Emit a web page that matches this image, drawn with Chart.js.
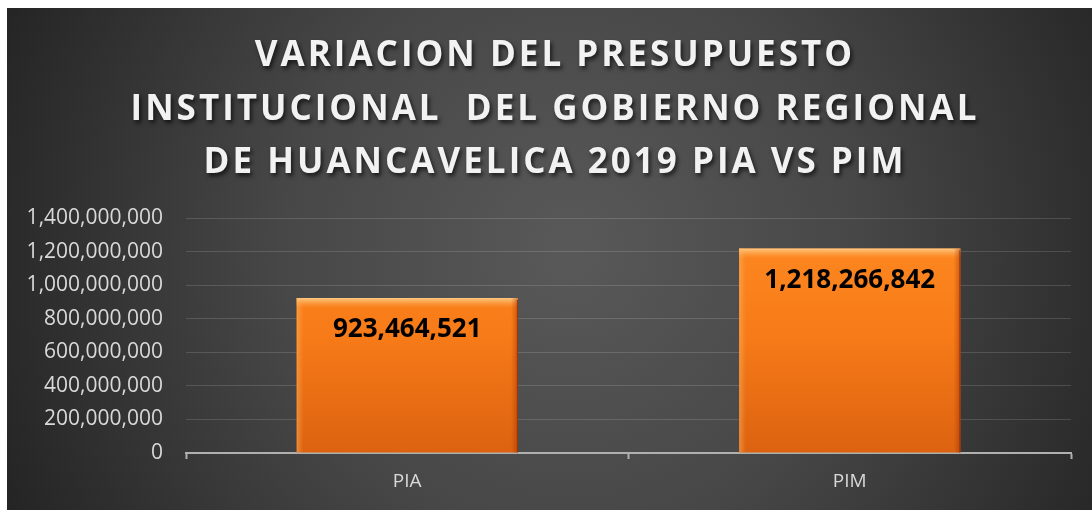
<!DOCTYPE html>
<html>
<head>
<meta charset="utf-8">
<script src="https://cdn.jsdelivr.net/npm/chart.js@4"></script>
<style>
  html, body { margin: 0; padding: 0; background: #fff; }
  #wrap { width: 1092px; height: 510px; }
</style>
</head>
<body>
<div id="wrap"><canvas id="chart" width="1092" height="510"></canvas></div>
<script>
const categories = ["PIA", "PIM"];
const presupuesto = [923464521, 1218266842];
const titleLines = [
    "VARIACION DEL PRESUPUESTO",
    "INSTITUCIONAL  DEL GOBIERNO REGIONAL",
    "DE HUANCAVELICA 2019 PIA VS PIM",
];
const yMax = 1400000000;
const yStep = 200000000;

const fmt = (v) => Number(v).toLocaleString("en-US");

// fondo gris oscuro con degradado radial
const fondo = {
    id: "fondo",
    beforeDraw(chart) {
        const { ctx, width, height } = chart;
        ctx.save();
        ctx.fillStyle = "#ffffff";
        ctx.fillRect(0, 0, width, height);
        const g = ctx.createRadialGradient(570, 250, 0, 570, 250, 640);
        g.addColorStop(0, "#595959");
        g.addColorStop(0.45, "#474747");
        g.addColorStop(1, "#222222");
        ctx.fillStyle = g;
        ctx.fillRect(7, 8, width - 7, height - 8);
        ctx.restore();
    },
};

// efecto biselado y etiquetas de valor
const barras = {
    id: "barras",
    afterDatasetsDraw(chart) {
        const { ctx } = chart;
        const meta = chart.getDatasetMeta(0);
        meta.data.forEach((bar, i) => {
            const { x, y, base, width } = bar.getProps(["x", "y", "base", "width"], true);
            const l = x - width / 2, r = x + width / 2;
            ctx.save();
            let g = ctx.createLinearGradient(0, y, 0, y + 10);
            g.addColorStop(0, "rgba(255,215,150,0.85)");
            g.addColorStop(1, "rgba(255,170,80,0)");
            ctx.fillStyle = g;
            ctx.fillRect(l, y, width, 10);
            g = ctx.createLinearGradient(l, 0, l + 7, 0);
            g.addColorStop(0, "rgba(255,190,110,0.45)");
            g.addColorStop(1, "rgba(255,170,80,0)");
            ctx.fillStyle = g;
            ctx.fillRect(l, y, 7, base - y);
            g = ctx.createLinearGradient(r - 7, 0, r, 0);
            g.addColorStop(0, "rgba(160,50,0,0)");
            g.addColorStop(1, "rgba(150,40,0,0.45)");
            ctx.fillStyle = g;
            ctx.fillRect(r - 7, y, 7, base - y);
            ctx.fillStyle = "#9c3208";
            ctx.fillRect(r - 1, y + 2, 1, base - y - 2);

            ctx.fillStyle = "#000000";
            ctx.font = "bold 26px 'Open Sans'";
            ctx.textAlign = "center";
            ctx.textBaseline = "middle";
            ctx.fillText(fmt(presupuesto[i]), x, y + 32);
            ctx.restore();
        });
    },
};

// título en tres líneas con sombra
const titulo = {
    id: "titulo",
    afterDraw(chart) {
        const { ctx } = chart;
        ctx.save();
        ctx.font = "bold 35px 'Open Sans'";
        ctx.letterSpacing = "3px";
        ctx.textAlign = "center";
        ctx.textBaseline = "middle";
        ctx.fillStyle = "#f2f2f2";
        ctx.shadowColor = "rgba(0,0,0,0.65)";
        ctx.shadowBlur = 4;
        ctx.shadowOffsetX = 2;
        ctx.shadowOffsetY = 3;
        const ys = [56, 110, 163];
        titleLines.forEach((t, i) => ctx.fillText(t, 555, ys[i]));
        ctx.restore();
    },
};

const ctx = document.getElementById("chart").getContext("2d");
new Chart(ctx, {
    type: "bar",
    data: {
        labels: categories,
        datasets: [
            {
                data: presupuesto,
                backgroundColor: (c) => {
                    const area = c.chart.chartArea;
                    if (!area) return "#f57c1c";
                    const g = c.chart.ctx.createLinearGradient(0, area.top, 0, area.bottom);
                    g.addColorStop(0, "#ff8a22");
                    g.addColorStop(0.5, "#f77b18");
                    g.addColorStop(1, "#dc6210");
                    return g;
                },
                borderWidth: 0,
                barPercentage: 0.5,
                categoryPercentage: 1,
            },
        ],
    },
    options: {
        responsive: false,
        animation: false,
        devicePixelRatio: 1,
        layout: {
            padding: { top: 218, right: 21, bottom: 0, left: 0 },
        },
        plugins: {
            legend: { display: false },
            tooltip: { enabled: false },
            title: { display: false },
        },
        scales: {
            x: {
                afterFit: (s) => { s.height = 57; },
                grid: {
                    display: true,
                    drawOnChartArea: false,
                    drawTicks: true,
                    tickLength: 6,
                    tickWidth: 2,
                    tickColor: "#b0b0b0",
                },
                border: { color: "#b0b0b0", width: 2 },
                ticks: {
                    color: "#d9d9d9",
                    padding: 11,
                    font: { family: "'Open Sans'", size: 19 },
                },
            },
            y: {
                min: 0,
                max: yMax,
                afterFit: (s) => { s.width = 186; },
                grid: {
                    color: "rgba(255,255,255,0.14)",
                    lineWidth: 1,
                    drawTicks: false,
                },
                border: { display: false },
                ticks: {
                    stepSize: yStep,
                    color: "#d9d9d9",
                    padding: 23,
                    font: { family: "'Open Sans'", size: 21 },
                    callback: (v) => fmt(v),
                },
            },
        },
    },
    plugins: [fondo, barras, titulo],
});
</script>
</body>
</html>
